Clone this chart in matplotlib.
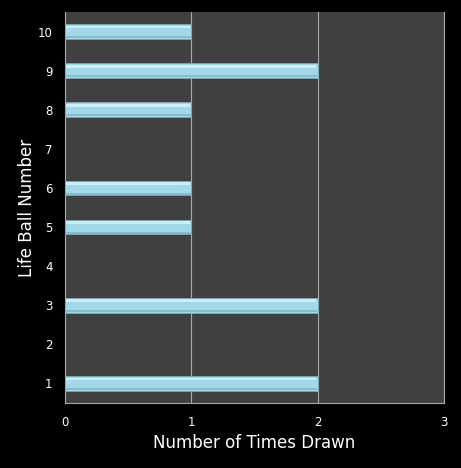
import matplotlib
matplotlib.use("Agg")
import matplotlib.pyplot as plt
import numpy as np

ball_numbers = [1, 2, 3, 4, 5, 6, 7, 8, 9, 10]
times_drawn = [2, 0, 2, 0, 1, 1, 0, 1, 2, 1]
x_ticks = [0, 1, 2, 3]

fig = plt.figure(figsize=(4.61, 4.68), dpi=100, facecolor="black")
ax = fig.add_axes([65 / 461, 65 / 468, 379 / 461, 391 / 468])
ax.set_facecolor("#404040")

y = np.arange(len(ball_numbers))
h = 0.38
vals = np.array(times_drawn, dtype=float)
mask = vals > 0

# base bar + simple bevel look (dark bottom edge, light top strip)
ax.barh(y[mask], vals[mask], height=h, color="#a3d8e8", edgecolor="#7aa9b8",
        linewidth=0.6, zorder=3)
ax.barh(y[mask] + h * 0.3, vals[mask] - 0.02, height=h * 0.18, left=0.01,
        color="#cdeef7", linewidth=0, zorder=4)
ax.barh(y[mask] - h * 0.38, vals[mask] - 0.01, height=h * 0.14, left=0.005,
        color="#86bccd", linewidth=0, zorder=4)

ax.set_xlim(0, 3)
ax.set_ylim(-0.5, len(ball_numbers) - 0.5)
ax.set_xticks(x_ticks)
ax.set_xticklabels([str(t) for t in x_ticks])
ax.set_yticks(y)
ax.set_yticklabels([str(b) for b in ball_numbers])

ax.grid(axis="x", color="#a8a8a8", linewidth=0.8, zorder=1)
ax.spines["top"].set_visible(False)
for s in ["left", "bottom", "right"]:
    ax.spines[s].set_color("#a8a8a8")
    ax.spines[s].set_linewidth(0.8)

ax.tick_params(colors="white", labelsize=8.5, length=0)
ax.tick_params(axis="x", pad=9)
ax.tick_params(axis="y", pad=9)
ax.set_xlabel("Number of Times Drawn", color="white", fontsize=12, labelpad=4)
ax.set_ylabel("Life Ball Number", color="white", fontsize=12, labelpad=1)

fig.savefig("out.png", dpi=100, facecolor="black")
